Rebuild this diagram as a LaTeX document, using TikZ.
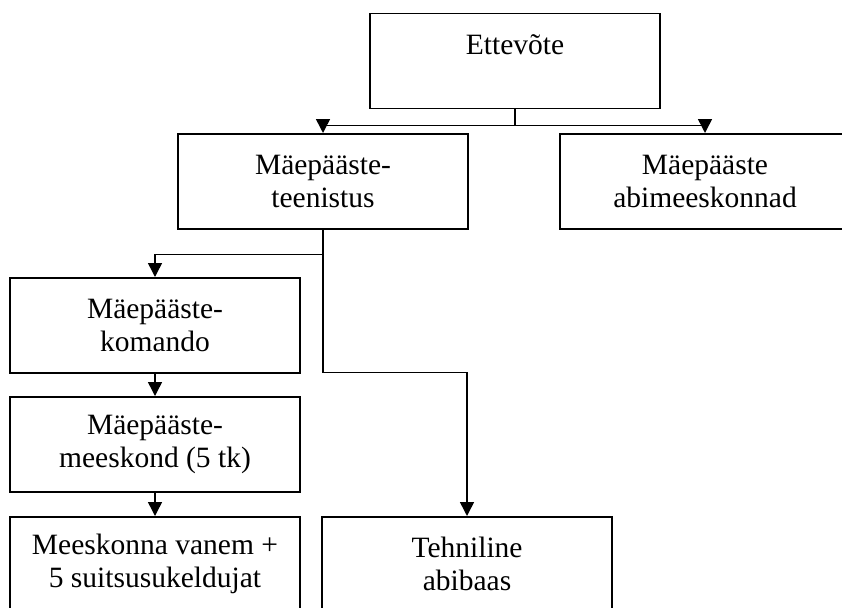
\documentclass[tikz,border=0pt]{standalone}
\usepackage{fontspec}
\setmainfont{Liberation Serif}
\usetikzlibrary{arrows.meta}

\begin{document}
\begin{tikzpicture}[x=1pt,y=-1pt,
  box/.style={draw,line width=1.5pt,anchor=north,minimum width=290pt,minimum height=95pt,
    align=center,inner sep=0pt,font=\fontsize{29.5}{33}\selectfont},
  arr/.style={line width=1.5pt,-{Triangle[length=14pt,width=14pt]}}]
\useasboundingbox (0,0) rectangle (842,607);
\clip (0,0) rectangle (842,607);
  \node[box] (ett) at (515,13) {Ettevõte\\ \mbox{}};
  \node[box] (teen) at (323,133) {Mäepääste-\\teenistus};
  \node[box] (abi) at (705,133) {Mäepääste\\abimeeskonnad};
  \node[box] (kom) at (155,277) {Mäepääste-\\komando};
  \node[box] (mees) at (155,396) {Mäepääste-\\meeskond (5 tk)};
  \node[box] (van) at (155,516) {Meeskonna vanem +\\5 suitsusukeldujat};
  \node[box] (teh) at (467,516) {Tehniline\\abibaas};
  % ettevote -> two branches
  \draw[line width=1.5pt] (ett.south) -- ++(0,16) coordinate (split);
  \draw[arr] (split) -| (teen.north);
  \draw[arr] (split) -| (abi.north);
  % teenistus -> komando and tehniline abibaas
  \draw[line width=1.5pt] (teen.south) -- ++(0,25) coordinate (fork);
  \draw[arr] (fork) -| (kom.north);
  \draw[arr] (fork) -- ++(0,118) -| (teh.north);
  \draw[arr] (kom) -- (mees);
  \draw[arr] (mees) -- (van);
\end{tikzpicture}
\end{document}
